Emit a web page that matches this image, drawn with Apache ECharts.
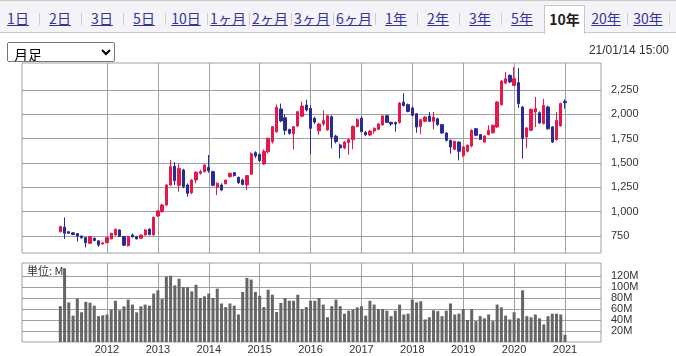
<!DOCTYPE html>
<html><head><meta charset="utf-8">
<script src="https://cdn.jsdelivr.net/npm/echarts@6/dist/echarts.min.js"></script>
<style>
html,body{margin:0;padding:0;background:#fff;width:676px;height:356px;overflow:hidden;font-family:"Liberation Sans","Noto Sans CJK JP",sans-serif;}
#chart{position:absolute;left:0;top:0;width:676px;height:356px;}
#tabbar{position:absolute;left:0;top:0;width:676px;height:33px;background:#f4f4f8;border-top:1px solid #c8c8c8;border-bottom:1px solid #c8c8c8;box-sizing:border-box;z-index:2;}
.tab{position:absolute;top:3px;height:28px;width:42px;text-align:center;line-height:28px;font-family:"Noto Sans CJK JP",sans-serif;font-size:14px;color:#333399;text-decoration:underline;}
.sep{position:absolute;top:12px;width:1px;height:12px;background:#cccccc;}
.sel{background:#fff;border:1px solid #c8c8c8;border-bottom:none;height:29px;top:4px;box-sizing:border-box;line-height:26px;color:#222;font-weight:bold;text-decoration:none;}
#period{position:absolute;left:7px;top:42px;width:108px;height:20px;font-size:14px;font-family:"Noto Sans CJK JP",sans-serif;padding:0 0 0 2px;z-index:2;}
#stamp{position:absolute;right:7px;top:42px;font-size:12px;line-height:16px;color:#333;z-index:2;}
</style></head>
<body>
<div id="chart"></div>
<div id="tabbar"></div>
<select id="period"><option>月足</option></select>
<div id="stamp">21/01/14 15:00</div>
<script>
// ---- tabs ----
const tabLabels = ["1日","2日","3日","5日","10日","1ヶ月","2ヶ月","3ヶ月","6ヶ月","1年","2年","3年","5年","10年","20年","30年"];
const selectedTab = "10年";

// ---- data ----
const months = [
"2011-02","2011-03","2011-04","2011-05","2011-06","2011-07","2011-08","2011-09","2011-10","2011-11","2011-12",
"2012-01","2012-02","2012-03","2012-04","2012-05","2012-06","2012-07","2012-08","2012-09","2012-10","2012-11","2012-12",
"2013-01","2013-02","2013-03","2013-04","2013-05","2013-06","2013-07","2013-08","2013-09","2013-10","2013-11","2013-12",
"2014-01","2014-02","2014-03","2014-04","2014-05","2014-06","2014-07","2014-08","2014-09","2014-10","2014-11","2014-12",
"2015-01","2015-02","2015-03","2015-04","2015-05","2015-06","2015-07","2015-08","2015-09","2015-10","2015-11","2015-12",
"2016-01","2016-02","2016-03","2016-04","2016-05","2016-06","2016-07","2016-08","2016-09","2016-10","2016-11","2016-12",
"2017-01","2017-02","2017-03","2017-04","2017-05","2017-06","2017-07","2017-08","2017-09","2017-10","2017-11","2017-12",
"2018-01","2018-02","2018-03","2018-04","2018-05","2018-06","2018-07","2018-08","2018-09","2018-10","2018-11","2018-12",
"2019-01","2019-02","2019-03","2019-04","2019-05","2019-06","2019-07","2019-08","2019-09","2019-10","2019-11","2019-12",
"2020-01","2020-02","2020-03","2020-04","2020-05","2020-06","2020-07","2020-08","2020-09","2020-10","2020-11","2020-12",
"2021-01"];
const openP = [794,840,794,782,775,750,733,675,726,700,668,
681,720,760,812,745,650,760,745,726,760,820,760,
955,1000,1068,1274,1467,1270,1428,1274,1195,1325,1394,1411,
1455,1411,1250,1274,1286,1359,1400,1352,1325,1274,1385,1606,
1589,1490,1616,1719,1821,2054,1965,1845,1800,1880,1980,2095,
2061,1960,1830,1900,1840,1975,1775,1685,1655,1710,1740,1875,
1960,1815,1787,1828,1846,1890,1986,1917,1917,1915,2125,2099,
2065,2006,1875,1928,1982,1928,1955,1894,1808,1733,1640,1715,
1578,1620,1674,1852,1791,1715,1791,1811,1870,2099,2321,2400,
2297,2325,2075,1767,1835,2023,2016,1904,2075,1870,1740,1880,
2133];
const closeP = [846,777,777,765,748,730,681,743,704,657,680,
733,777,819,745,655,745,740,720,760,812,765,942,
1007,1068,1274,1462,1318,1445,1256,1188,1325,1405,1411,1479,
1420,1270,1291,1222,1324,1394,1370,1297,1280,1370,1595,1572,
1524,1620,1753,1873,2070,1932,1835,1804,1873,2027,2085,2044,
1856,1920,1900,1935,1985,1765,1720,1655,1715,1740,1875,1945,
1822,1790,1828,1856,1900,1983,1917,1900,1900,2115,2090,2030,
1989,1870,1945,1972,1928,1972,1894,1808,1733,1664,1722,1620,
1664,1681,1835,1784,1743,1777,1835,1887,2126,2342,2366,2332,
2366,2109,1750,1860,2051,2058,1911,2092,1852,1715,1938,2110,
2119];
const lowP = [785,720,770,757,693,725,632,668,695,640,662,
676,715,755,740,645,640,735,715,720,755,755,755,
945,990,1060,1265,1274,1205,1240,1154,1180,1290,1380,1400,
1400,1260,1171,1210,1280,1350,1360,1285,1270,1222,1380,1550,
1510,1480,1600,1700,1810,1920,1787,1790,1640,1870,1970,2030,
1590,1900,1790,1880,1830,1650,1700,1548,1640,1585,1640,1865,
1815,1775,1775,1800,1840,1885,1910,1880,1821,1905,2080,2020,
1980,1811,1795,1920,1920,1845,1880,1800,1720,1596,1630,1527,
1560,1610,1660,1775,1735,1705,1785,1800,1860,2090,2310,2320,
2290,2065,1544,1650,1830,1870,1900,1895,1840,1705,1730,1875,
2058];
const highP = [855,942,800,790,780,755,740,748,735,703,685,
738,785,825,818,750,750,775,750,765,820,830,950,
1015,1080,1285,1530,1510,1490,1440,1290,1330,1415,1430,1490,
1582,1420,1300,1290,1330,1400,1405,1360,1340,1375,1610,1620,
1595,1640,1760,1880,2100,2110,2000,1850,1880,2035,2133,2150,
2095,1975,1910,2040,1995,1990,1790,1700,1725,1750,1885,1960,
1980,1830,1835,1865,1910,1990,1995,1925,1925,2125,2215,2110,
2080,2010,1955,1980,2023,2023,1965,1900,1815,1740,1730,1720,
1670,1690,1845,1860,1795,1785,1887,1895,2135,2350,2434,2410,
2485,2475,2085,1870,2060,2178,2030,2160,2090,1880,2023,2120,
2153];
const volumeM = [65,134,72,48,79,54,73,71.5,66,47,48.5,
50,59,75,57.7,64.8,77,68,54,64.8,68,66,88,
94,78,119,120.5,103,115,100,100,92,104,80,83,
88,80,97,70,63.5,70,66,50,91,116.5,113.5,91,
84,63.5,95,86,54.5,71,80,75,75,86,60,63.5,
75,75,80,68,45,65,77,65,51.5,57,59,63,
65,48,75,68,60,60,57,47,57,68,50,51.5,
77,72,74,41,45,57.7,56,47,57,70,50,51.5,
60,40,60,38,47,43,50,38,68,63,48,41,
54,43,94,47,45,50,43,32,47,51.5,51.5,50,
13];
const yearLabels = [2012,2013,2014,2015,2016,2017,2018,2019,2020,2021];
const priceTicks = [750,1000,1250,1500,1750,2000,2250];
const volumeTicks = [20,40,60,80,100,120];

// ---- tab bar ----
const bar = document.getElementById('tabbar');
tabLabels.forEach((t,k)=>{
  const d = document.createElement('div');
  d.className = 'tab' + (t===selectedTab ? ' sel' : '');
  d.textContent = t;
  const left = -3 + k*42;
  d.style.left = (t===selectedTab ? left+1 : left) + 'px';
  if (t===selectedTab) d.style.width = '41px';
  bar.appendChild(d);
  const isSelOrBefore = (t===selectedTab) || (tabLabels[k+1]===selectedTab);
  if (!isSelOrBefore) {
    const s = document.createElement('div');
    s.className = 'sep';
    s.style.left = (39 + k*42) + 'px';
    bar.appendChild(s);
  }
});

// ---- chart ----
function monthPos(m){ const p = m.split('-').map(Number); return (p[0]-2012)*12 + (p[1]-1); }
const candleData = months.map((m,i)=>[monthPos(m), openP[i], closeP[i], lowP[i], highP[i]]);
const volData = months.map((m,i)=>[monthPos(m), volumeM[i]]);
const yearPos = yearLabels.map(y => (y-2012)*12);

const gridColor = '#a0a0a0';
const UP = '#e5174b', DOWN = '#2a2a94';
const font = '"Liberation Sans","Noto Sans CJK JP",sans-serif';

const chart = echarts.init(document.getElementById('chart'), null, {renderer:'canvas'});
const xBase = (gi, showLabel) => ({
  type:'value', gridIndex:gi, min:-20.04, max:116.49,
  axisLine:{show:false}, axisTick:{show:false, customValues:yearPos},
  axisLabel:{show:showLabel, customValues:yearPos, margin:2, color:'#333', fontSize:11, fontFamily:font,
    formatter: v => String(2012 + Math.round(v/12))},
  splitLine:{show:true, lineStyle:{color:gridColor, width:1}}
});
chart.setOption({
  animation:false,
  textStyle:{fontFamily:font},
  grid:[
    {left:22, top:63, width:579, height:190, show:true, borderColor:gridColor, borderWidth:1, containLabel:false},
    {left:22, top:263, width:579, height:79, show:true, borderColor:gridColor, borderWidth:1, containLabel:false}
  ],
  xAxis:[ xBase(0,false), xBase(1,true) ],
  yAxis:[
    {type:'value', gridIndex:0, position:'right', min:575, max:2527, scale:true,
     axisLine:{show:false},
     axisTick:{show:true, length:5, customValues:priceTicks, lineStyle:{color:gridColor}},
     axisLabel:{customValues:priceTicks, margin:10, color:'#333', fontSize:11, fontFamily:font,
       formatter: v => v.toLocaleString('en-US')},
     splitLine:{show:true, lineStyle:{color:gridColor, width:1}}},
    {type:'value', gridIndex:1, position:'right', min:0, max:143.6,
     axisLine:{show:false},
     axisTick:{show:true, length:5, customValues:volumeTicks, lineStyle:{color:gridColor}},
     axisLabel:{customValues:volumeTicks, margin:10, color:'#333', fontSize:11, fontFamily:font,
       formatter: v => v + 'M'},
     splitLine:{show:true, lineStyle:{color:gridColor, width:1}}}
  ],
  graphic:[
    {type:'text', left:27, top:265, z:0, zlevel:0,
     style:{text:'単位: M', fontSize:11, fill:'#333', fontFamily:'"Noto Sans CJK JP",sans-serif'}}
  ],
  series:[
    {type:'candlestick', xAxisIndex:0, yAxisIndex:0, data:candleData,
     encode:{x:0, y:[1,2,3,4]}, barWidth:2.8, z:3,
     itemStyle:{color:UP, color0:DOWN, borderColor:UP, borderColor0:DOWN, borderWidth:1}},
    {type:'bar', xAxisIndex:1, yAxisIndex:1, data:volData, barWidth:3, z:3,
     itemStyle:{color:'#666666'}}
  ]
});
</script>
</body></html>
